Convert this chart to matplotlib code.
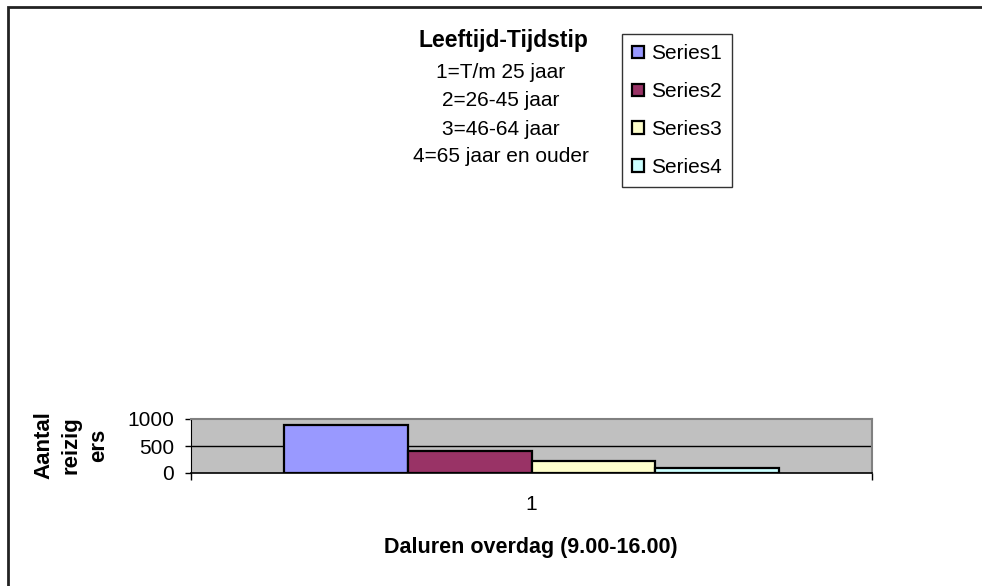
import matplotlib
matplotlib.use('Agg')
import matplotlib.pyplot as plt
from matplotlib.patches import Rectangle

plt.rcParams['font.family'] = ['Liberation Sans', 'DejaVu Sans']

# data
categories = ['1']
series_names = ['Series1', 'Series2', 'Series3', 'Series4']
series_values = [890, 400, 215, 100]
series_colors = ['#9999FF', '#993366', '#FFFFCC', '#CCFFFF']
yticks = [0, 500, 1000]
title_lines = ['1=T/m 25 jaar', '2=26-45 jaar', '3=46-64 jaar', '4=65 jaar en ouder']

W, H = 982, 586
fig = plt.figure(figsize=(W / 100, H / 100), dpi=100)
fig.patch.set_facecolor('white')

def fx(px):
    return px / W

def fy(py):
    return 1 - py / H

# plot area
ax = fig.add_axes([fx(191), fy(473), fx(872) - fx(191), (473 - 419) / H])
ax.set_facecolor('#C0C0C0')

bw = 0.182
n = len(series_values)
bars = []
for i, (name, val, col) in enumerate(zip(series_names, series_values, series_colors)):
    xpos = (i - (n - 1) / 2) * bw
    b = ax.bar(xpos, val, width=bw, color=col, edgecolor='black', linewidth=1.6,
               label=name, zorder=3)
    bars.append(b)

ax.set_xlim(-0.5, 0.5)
ax.set_ylim(0, 1000)
ax.set_yticks(yticks)
ax.set_yticklabels([str(v) for v in yticks], fontsize=15)
ax.tick_params(axis='y', direction='out', length=4, width=1, pad=8)
ax.set_xticks([0])
ax.set_xticklabels(categories, fontsize=15)
ax.tick_params(axis='x', which='major', length=0, pad=16)
ax.set_xticks([-0.5, 0.5], minor=True)
ax.tick_params(axis='x', which='minor', direction='out', length=5, width=1)

ax.axhline(500, color='black', lw=1, zorder=1)
for s in ['top', 'right']:
    ax.spines[s].set_color('#808080')
    ax.spines[s].set_linewidth(1.5)
ax.spines['left'].set_color('black')
ax.spines['bottom'].set_color('black')
ax.spines['bottom'].set_linewidth(1.2)

# axis titles
fig.text(fx(531), fy(548), 'Daluren overdag (9.00-16.00)', fontsize=15.5,
         fontweight='bold', ha='center', va='center')
fig.text(fx(71), fy(445), 'Aantal\nreizig\ners', fontsize=16, fontweight='bold',
         rotation=90, ha='center', va='center', multialignment='center',
         linespacing=1.4)

# title block
fig.text(fx(503), fy(40), 'Leeftijd-Tijdstip', fontsize=16.5, fontweight='bold',
         ha='center', va='center')
for line, py in zip(title_lines, [72, 101, 129, 157]):
    fig.text(fx(501), fy(py), line, fontsize=15, ha='center', va='center')

# legend
leg = fig.legend(handles=[b[0] for b in bars], labels=series_names,
                 loc='upper left', bbox_to_anchor=(fx(622), fy(34)),
                 borderaxespad=0, fontsize=15, frameon=True, fancybox=False,
                 handlelength=0.55, handleheight=0.55, handletextpad=0.35,
                 labelspacing=0.9, borderpad=0.5)
leg.get_frame().set_edgecolor('black')
leg.get_frame().set_linewidth(1.0)

# chart border (left and top edges)
fig.add_artist(Rectangle((fx(8), -0.1), 2, fy(7) + 0.1, transform=fig.transFigure,
                         facecolor='none', edgecolor='#222222', linewidth=2))

fig.savefig('out.png', dpi=100, facecolor='white')
